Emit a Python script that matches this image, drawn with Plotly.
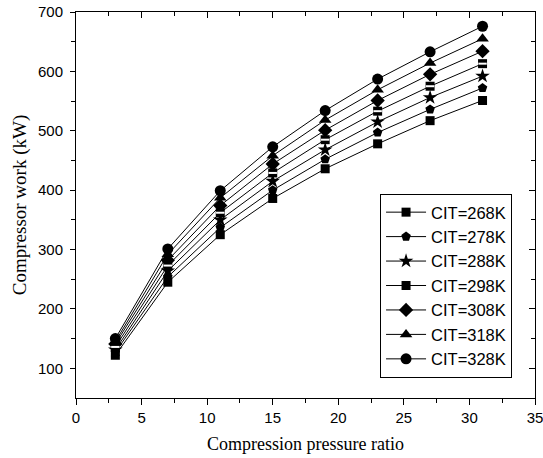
import plotly.graph_objects as go

pressure_ratio = [3, 7, 11, 15, 19, 23, 27, 31]
cit_labels = ["CIT=268K", "CIT=278K", "CIT=288K", "CIT=298K", "CIT=308K", "CIT=318K", "CIT=328K"]
work_268 = [122, 245, 325, 386, 436, 478, 517, 551]
work_278 = [127, 254, 337, 400, 452, 497, 536, 572]
work_288 = [131, 264, 350, 415, 468, 515, 556, 592]
work_298 = [136, 273, 362, 429, 485, 533, 575, 613]
work_308 = [141, 282, 374, 444, 501, 551, 595, 634]
work_318 = [145, 292, 387, 458, 518, 569, 614, 655]
work_328 = [150, 301, 399, 473, 534, 587, 633, 676]

series = [work_268, work_278, work_288, work_298, work_308, work_318, work_328]
symbols = ["square", "pentagon", "star", "square", "diamond", "triangle-up", "circle"]
sizes = [9, 10, 11, 9, 11, 11, 11]

fig = go.Figure()
for lab, ys, sym, sz in zip(cit_labels, series, symbols, sizes):
    fig.add_trace(go.Scatter(
        x=pressure_ratio, y=ys, mode="lines+markers", name=lab,
        line=dict(color="black", width=1),
        marker=dict(symbol=sym, size=sz, color="black", line=dict(width=0)),
    ))
# white stripe in the half-filled square (CIT=298K)
fig.add_trace(go.Scatter(
    x=pressure_ratio, y=work_298, mode="markers", showlegend=False, hoverinfo="skip",
    marker=dict(symbol="line-ew", size=6, line=dict(color="white", width=2)),
))

tickfont = dict(family="Liberation Sans, Arial", size=15, color="black")
fig.update_layout(
    width=543, height=458,
    margin=dict(l=76, r=8, t=12, b=60),
    paper_bgcolor="white", plot_bgcolor="white",
    showlegend=True,
    legend=dict(
        x=0.95, y=0.052, xanchor="right", yanchor="bottom",
        bordercolor="black", borderwidth=1, bgcolor="white",
        font=dict(family="Liberation Sans, Arial", size=16.5, color="black"),
        itemwidth=40, tracegroupgap=0,
    ),
    xaxis=dict(
        range=[0, 35], tickvals=[0, 5, 10, 15, 20, 25, 30, 35],
        ticks="outside", ticklen=6, tickwidth=1, tickcolor="black",
        minor=dict(tickvals=[2.5, 7.5, 12.5, 17.5, 22.5, 27.5, 32.5], ticks="outside", ticklen=4, tickcolor="black"),
        showline=True, linecolor="black", linewidth=1, showgrid=False, zeroline=False,
        tickfont=tickfont, ticklabeloverflow="allow", automargin=False,
        title=dict(text="Compression pressure ratio", font=dict(family="Liberation Serif, Times New Roman", size=18, color="black"), standoff=12),
    ),
    yaxis=dict(
        range=[50, 700], tickvals=[100, 200, 300, 400, 500, 600, 700],
        ticks="outside", ticklen=5, tickwidth=1, tickcolor="black",
        minor=dict(tickvals=[150, 250, 350, 450, 550, 650], ticks="outside", ticklen=4, tickcolor="black"),
        showline=True, linecolor="black", linewidth=1, showgrid=False, zeroline=False,
        tickfont=tickfont, ticklabelstandoff=4, ticklabeloverflow="allow", automargin=False,
        title=dict(text="Compressor work (kW)", font=dict(family="Liberation Serif, Times New Roman", size=19, color="black"), standoff=6),
    ),
    xaxis2=dict(
        overlaying="x", side="top", matches="x", range=[0, 35],
        tickvals=[0, 5, 10, 15, 20, 25, 30, 35], showticklabels=False,
        ticks="inside", ticklen=6, tickcolor="black",
        minor=dict(tickvals=[2.5, 7.5, 12.5, 17.5, 22.5, 27.5, 32.5], ticks="inside", ticklen=4, tickcolor="black"),
        showline=True, linecolor="black", linewidth=1, showgrid=False, zeroline=False,
    ),
    yaxis2=dict(
        overlaying="y", side="right", range=[50, 700],
        tickvals=[100, 200, 300, 400, 500, 600, 700], showticklabels=False,
        ticks="inside", ticklen=6, tickcolor="black",
        minor=dict(tickvals=[150, 250, 350, 450, 550, 650], ticks="inside", ticklen=4, tickcolor="black"),
        showline=True, linecolor="black", linewidth=1, showgrid=False, zeroline=False,
    ),
)
# invisible trace to activate the mirrored axes
fig.add_trace(go.Scatter(x=[None], y=[None], xaxis="x2", yaxis="y2", showlegend=False, hoverinfo="skip"))

fig.write_html("out.html")
